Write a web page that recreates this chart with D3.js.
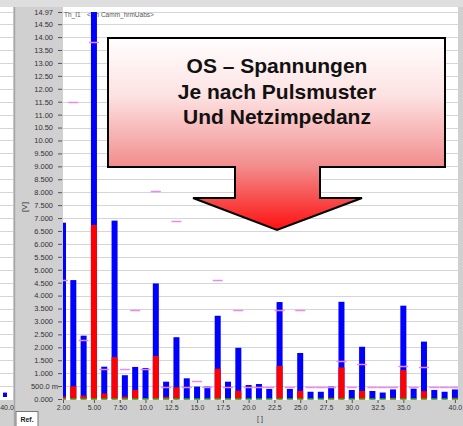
<!DOCTYPE html>
<html>
<head>
<meta charset="utf-8">
<script src="https://cdn.jsdelivr.net/npm/d3@7"></script>
<style>
    body { margin: 0; background: #fff; }
    svg { display: block; font-family: "Liberation Sans", Arial, sans-serif; }
</style>
</head>
<body>
<svg id="chart"></svg>
<script>
// harmonic order and voltages [V]
let harmonics = [2, 3, 4, 5, 6, 7, 8, 9, 10, 11, 12, 13, 14, 15, 16, 17, 18, 19, 20, 21,
    22, 23, 24, 25, 26, 27, 28, 29, 30, 31, 32, 33, 34, 35, 36, 37, 38, 39, 40];
let blueVals = [6.82, 4.60, 2.45, 14.97, 1.25, 6.90, 0.92, 1.24, 1.20, 4.47,
    0.67, 2.39, 0.80, 0.48, 0.48, 3.22, 0.67, 1.98, 0.54, 0.58,
    0.39, 3.75, 0.39, 1.78, 0.28, 0.28, 0.48, 3.76, 0.35, 2.02,
    0.31, 0.25, 0.37, 3.61, 0.40, 2.22, 0.35, 0.28, 0.37];
let redVals = [0.10, 0.49, 0.13, 6.73, 0.21, 1.62, 0.09, 0.35, 0.03, 1.66,
    0.08, 0.45, 0.02, 0.02, 0.02, 1.17, 0.02, 0.32, 0.02, 0.02,
    0.02, 1.28, 0.02, 0.31, 0.02, 0.02, 0.05, 1.22, 0.02, 0.31,
    0.02, 0.02, 0.05, 1.12, 0.02, 0.30, 0.02, 0.02, 0.05];
let limitVals = [4.60, 11.50, 2.30, 13.80, 1.15, 11.50, 1.15, 3.45, 1.15, 8.05,
    0.46, 6.90, 0.46, 0.69, 0.46, 4.60, 0.46, 3.45, 0.46, 0.46,
    0.46, 3.45, 0.46, 3.45, 0.46, 0.46, 0.46, 1.47, 0.46, 1.35,
    0.46, 0.46, 0.46, 1.29, 0.46, 1.25, 0.46, 0.46, 0.46];
let refPanelVals = [0.17];

let yTicks = [0, 0.5, 1, 1.5, 2, 2.5, 3, 3.5, 4, 4.5, 5, 5.5, 6, 6.5, 7, 7.5, 8, 8.5,
    9, 9.5, 10, 10.5, 11, 11.5, 12, 12.5, 13, 13.5, 14, 14.5, 14.97];
let yTickLabels = ["0.000", "500.0 m", "1.000", "1.500", "2.000", "2.500", "3.000", "3.500",
    "4.000", "4.500", "5.000", "5.500", "6.000", "6.500", "7.000", "7.500", "8.000", "8.500",
    "9.000", "9.500", "10.00", "10.50", "11.00", "11.50", "12.00", "12.50", "13.00", "13.50",
    "14.00", "14.50", "14.97"];
let xTicks = [2, 5, 7.5, 10, 12.5, 15, 17.5, 20, 22.5, 25, 27.5, 30, 32.5, 35, 40];
let xTickLabels = ["2.00", "5.00", "7.50", "10.0", "12.5", "15.0", "17.5", "20.0", "22.5",
    "25.0", "27.5", "30.0", "32.5", "35.0", "40.0"];

let calloutLines = ["OS \u2013 Spannungen", "Je nach Pulsmuster", "Und Netzimpedanz"];

let width = 463;
let height = 426;
let plot = { left: 63, right: 458, top: 7, bottom: 399 };

let svg = d3.select("#chart").attr("width", width).attr("height", height);

let x = d3.scaleLinear().domain([2, 40.3]).range([plot.left, plot.right]);
let y = d3.scaleLinear().domain([0, 14.97]).range([plot.bottom, 12]);
let barW = 6;

// frame / background
svg.append("rect").attr("width", width).attr("height", height).attr("fill", "#d0d0d0");
svg.append("rect").attr("width", width).attr("height", 7).attr("fill", "#dedede");
svg.append("rect")
    .attr("x", plot.left).attr("y", plot.top)
    .attr("width", plot.right - plot.left).attr("height", plot.bottom - plot.top + 1)
    .attr("fill", "#fff");

// cut off reference panel on the left
svg.append("rect").attr("x", 0).attr("y", 7).attr("width", 13).attr("height", 393).attr("fill", "#fff");
svg.append("line").attr("x1", 14.5).attr("x2", 14.5).attr("y1", 7).attr("y2", 426)
    .attr("stroke", "#a8a8a8").attr("stroke-width", 1.5);

// grid lines
let grid = svg.append("g");
yTicks.slice(1).forEach(t => {
    grid.append("line")
        .attr("x1", plot.left).attr("x2", plot.right)
        .attr("y1", Math.round(y(t)) + 0.5).attr("y2", Math.round(y(t)) + 0.5)
        .attr("stroke", "#d6d6d6");
    grid.append("line")
        .attr("x1", 0).attr("x2", 13)
        .attr("y1", Math.round(y(t)) + 0.5).attr("y2", Math.round(y(t)) + 0.5)
        .attr("stroke", "#d6d6d6");
});

svg.selectAll(".refbar")
    .data(refPanelVals)
    .enter()
    .append("rect")
        .attr("class", "refbar")
        .attr("x", 3).attr("width", 4)
        .attr("y", d => y(d) - 2)
        .attr("height", d => y(0) - y(d))
        .attr("fill", "#0000ff");
svg.append("text").attr("x", 7).attr("y", 410).attr("text-anchor", "middle")
    .attr("font-size", 7).attr("fill", "#333").text("40.0");

// channel labels (under the bars)
svg.append("text").attr("x", 64).attr("y", 17).attr("font-size", 6.5).attr("fill", "#555").text("Th_I1");
svg.append("text").attr("x", 87).attr("y", 17).attr("font-size", 6.5).attr("fill", "#555").text("<Ch Camm_hrmUabs>");

// bars
svg.append("clipPath").attr("id", "plot-clip")
    .append("rect")
        .attr("x", plot.left).attr("y", plot.top)
        .attr("width", plot.right - plot.left).attr("height", plot.bottom - plot.top + 1);

let bars = svg.append("g").attr("clip-path", "url(#plot-clip)");

bars.selectAll(".blue")
    .data(harmonics)
    .enter()
    .append("rect")
        .attr("class", "blue")
        .attr("x", d => x(d) - barW / 2)
        .attr("width", barW)
        .attr("y", (d, i) => y(blueVals[i]))
        .attr("height", (d, i) => y(0) - y(blueVals[i]))
        .attr("fill", "#0000ff");

bars.selectAll(".red")
    .data(harmonics)
    .enter()
    .append("rect")
        .attr("class", "red")
        .attr("x", d => x(d) - barW / 2)
        .attr("width", barW)
        .attr("y", (d, i) => y(redVals[i]))
        .attr("height", (d, i) => y(0) - y(redVals[i]))
        .attr("fill", "#ff0000");

bars.selectAll(".base")
    .data(harmonics)
    .enter()
    .append("rect")
        .attr("class", "base")
        .attr("x", d => x(d) - barW / 2)
        .attr("width", barW)
        .attr("y", y(0) - 0.5)
        .attr("height", 1.5)
        .attr("fill", "#33cc33");

// limit markers
bars.selectAll(".limit")
    .data(harmonics)
    .enter()
    .append("line")
        .attr("class", "limit")
        .attr("x1", d => x(d) - 5)
        .attr("x2", d => x(d) + 5)
        .attr("y1", (d, i) => Math.round(y(limitVals[i])) + 0.5)
        .attr("y2", (d, i) => Math.round(y(limitVals[i])) + 0.5)
        .attr("stroke", "#ee88ee")
        .attr("stroke-width", 1.5);

// axes
let yAxis = svg.append("g")
    .attr("transform", "translate(62,0)")
    .call(d3.axisLeft(y).tickValues(yTicks).tickFormat((d, i) => yTickLabels[i]).tickSize(4).tickPadding(5));
yAxis.select(".domain").remove();
yAxis.selectAll("line").attr("stroke", "#555");
yAxis.selectAll("text")
    .attr("font-size", 7.5)
    .attr("fill", "#333")
    .attr("font-family", "Liberation Sans, Arial, sans-serif");
yAxis.selectAll("text").filter(d => d == 0.5).attr("x", -4);

let xAxis = svg.append("g")
    .attr("transform", "translate(0,400)")
    .call(d3.axisBottom(x).tickValues(xTicks).tickFormat((d, i) => xTickLabels[i]).tickSize(3).tickPadding(2));
xAxis.select(".domain").remove();
xAxis.selectAll("line").attr("stroke", "#555");
xAxis.selectAll("text")
    .attr("font-size", 7)
    .attr("fill", "#333")
    .attr("font-family", "Liberation Sans, Arial, sans-serif");

svg.append("text")
    .attr("transform", "translate(27,207) rotate(-90)")
    .attr("text-anchor", "middle")
    .attr("font-size", 8).attr("fill", "#333")
    .text("[V]");
svg.append("text")
    .attr("x", 260).attr("y", 421).attr("text-anchor", "middle")
    .attr("font-size", 7).attr("fill", "#333")
    .text("[ ]");

// "Ref." tab
svg.append("rect").attr("x", 16).attr("y", 411.5).attr("width", 22).attr("height", 15)
    .attr("fill", "#fff").attr("stroke", "#777");
svg.append("text").attr("x", 27).attr("y", 422).attr("text-anchor", "middle")
    .attr("font-size", 7).attr("font-weight", "bold").attr("fill", "#222").text("Ref.");

// callout arrow
let grad = svg.append("defs").append("linearGradient")
    .attr("id", "callout-grad")
    .attr("gradientUnits", "userSpaceOnUse")
    .attr("x1", 0).attr("x2", 0).attr("y1", 38).attr("y2", 230);
grad.append("stop").attr("offset", 0).attr("stop-color", "#ffffff");
grad.append("stop").attr("offset", 0.3).attr("stop-color", "#fde2e2");
grad.append("stop").attr("offset", 0.67).attr("stop-color", "#f28c8c");
grad.append("stop").attr("offset", 1).attr("stop-color", "#ff1010");

svg.append("path")
    .attr("d", "M108,38 H445 V167 H320 V198 H362 L277,230 L193,198 H235 V167 H108 Z")
    .attr("fill", "url(#callout-grad)")
    .attr("stroke", "#000")
    .attr("stroke-width", 2)
    .attr("stroke-linejoin", "miter");

svg.selectAll(".callout")
    .data(calloutLines)
    .enter()
    .append("text")
        .attr("class", "callout")
        .attr("x", 277)
        .attr("y", (d, i) => 73 + i * 25.7)
        .attr("text-anchor", "middle")
        .attr("font-size", 21)
        .attr("font-weight", "bold")
        .attr("fill", "#111")
        .text(d => d);
</script>
</body>
</html>
